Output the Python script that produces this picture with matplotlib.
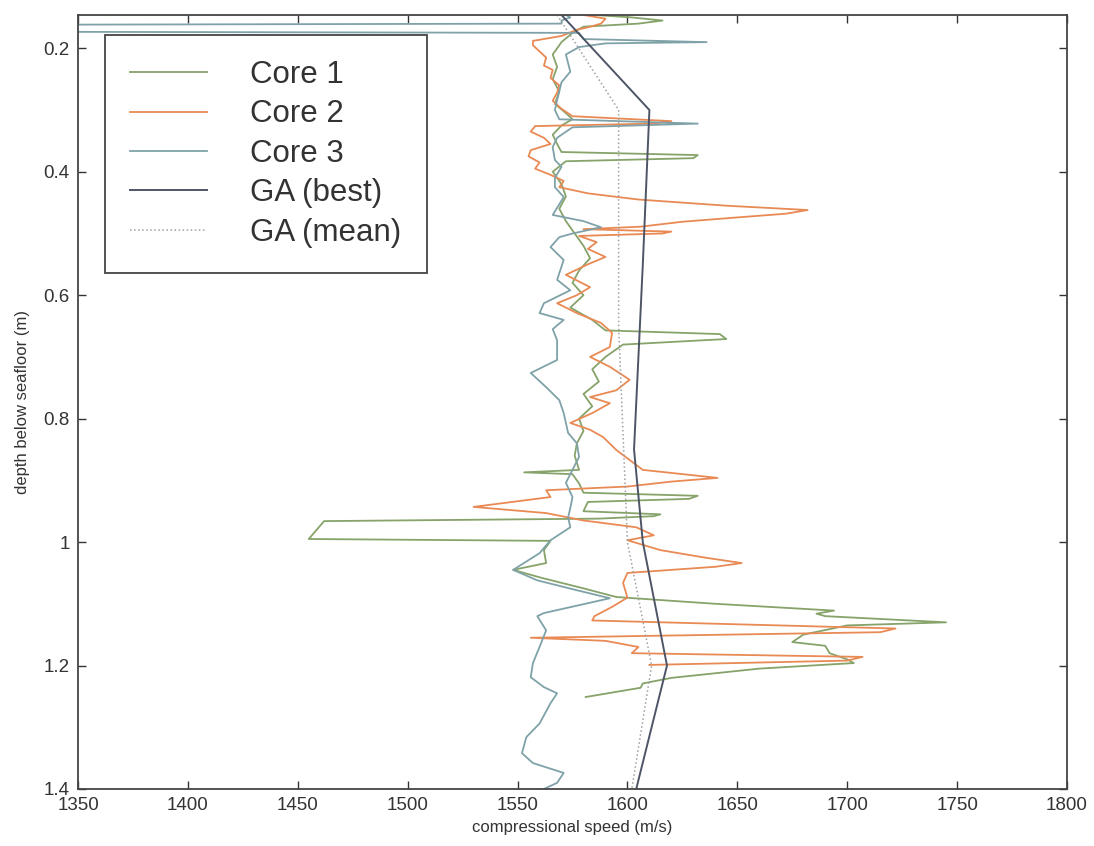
import numpy as np
import matplotlib.pyplot as plt
from matplotlib import font_manager

# font: Helvetica-like, narrow for the ticks if available
names = {f.name for f in font_manager.fontManager.ttflist}
narrow = 'Liberation Sans Narrow' if 'Liberation Sans Narrow' in names else 'Liberation Sans'
plt.rcParams['font.family'] = ['Liberation Sans', 'DejaVu Sans']

# Core 1 (depth m, speed m/s)
core1_depth = [0.146, 0.150, 0.155, 0.160, 0.165, 0.175, 0.19, 0.21, 0.23, 0.25, 0.27, 0.29,
               0.305, 0.315, 0.325, 0.34, 0.355, 0.368, 0.373, 0.378, 0.383, 0.40, 0.42, 0.44,
               0.46, 0.48, 0.50, 0.52, 0.54, 0.56, 0.58, 0.60, 0.62, 0.64, 0.657, 0.663, 0.671,
               0.680, 0.70, 0.72, 0.74, 0.76, 0.78, 0.80, 0.82, 0.84, 0.86, 0.883, 0.887, 0.890,
               0.905, 0.920, 0.925, 0.930, 0.935, 0.950, 0.955, 0.958, 0.962, 0.966, 0.995, 0.998,
               1.013, 1.034, 1.045, 1.058, 1.075, 1.089, 1.100, 1.111, 1.116, 1.120, 1.130, 1.135,
               1.150, 1.162, 1.168, 1.180, 1.190, 1.196, 1.205, 1.220, 1.229, 1.236, 1.251]
core1_speed = [1585, 1602, 1616, 1605, 1580, 1575, 1570, 1566, 1568, 1566, 1569, 1567,
               1572, 1575, 1570, 1566, 1568, 1570, 1632, 1630, 1572, 1566, 1570, 1572,
               1569, 1572, 1576, 1580, 1583, 1578, 1575, 1580, 1574, 1584, 1590, 1642, 1645,
               1598, 1590, 1584, 1587, 1580, 1584, 1578, 1580, 1577, 1576, 1578, 1553, 1575,
               1578, 1580, 1632, 1628, 1582, 1580, 1615, 1612, 1587, 1462, 1455, 1565,
               1562, 1563, 1548, 1561, 1580, 1595, 1640, 1694, 1686, 1690, 1745, 1700,
               1680, 1675, 1690, 1692, 1700, 1703, 1660, 1620, 1607, 1606, 1581]

# Core 2
core2_depth = [0.146, 0.152, 0.160, 0.166, 0.170, 0.180, 0.188, 0.195, 0.205, 0.215, 0.228,
               0.235, 0.248, 0.260, 0.272, 0.285, 0.298, 0.310, 0.318, 0.322, 0.326, 0.335,
               0.345, 0.355, 0.365, 0.375, 0.385, 0.395, 0.405, 0.415, 0.425, 0.435, 0.445,
               0.455, 0.462, 0.468, 0.474, 0.481, 0.489, 0.493, 0.497, 0.500, 0.504, 0.514,
               0.525, 0.538, 0.55, 0.567, 0.587, 0.60, 0.613, 0.629, 0.645, 0.661, 0.684,
               0.700, 0.716, 0.737, 0.754, 0.765, 0.775, 0.791, 0.807, 0.818, 0.830, 0.851,
               0.867, 0.883, 0.896, 0.902, 0.910, 0.916, 0.927, 0.943, 0.953, 0.965, 0.976,
               0.989, 0.997, 1.013, 1.025, 1.034, 1.040, 1.050, 1.066, 1.090, 1.105, 1.120,
               1.127, 1.140, 1.146, 1.155, 1.160, 1.170, 1.180, 1.186, 1.192, 1.199]
core2_speed = [1580, 1590, 1588, 1582, 1577, 1570, 1557, 1557, 1560, 1563, 1562,
               1566, 1565, 1569, 1568, 1566, 1570, 1575, 1620, 1612, 1558, 1556,
               1562, 1565, 1556, 1555, 1560, 1558, 1565, 1571, 1569, 1582, 1605,
               1645, 1682, 1672, 1650, 1625, 1606, 1580, 1620, 1616, 1578, 1586,
               1582, 1590, 1582, 1572, 1583, 1577, 1568, 1577, 1588, 1593, 1592,
               1583, 1592, 1601, 1595, 1583, 1592, 1584, 1574, 1583, 1589, 1595,
               1601, 1607, 1641, 1620, 1600, 1563, 1565, 1530, 1563, 1580, 1604,
               1612, 1600, 1615, 1635, 1652, 1640, 1600, 1598, 1600, 1593, 1585,
               1584, 1722, 1715, 1556, 1590, 1605, 1602, 1707, 1700, 1610]

# Core 3
core3_depth = [0.146, 0.150, 0.155, 0.160, 0.162, 0.173, 0.175, 0.185, 0.190, 0.192, 0.198,
               0.21, 0.238, 0.255, 0.284, 0.30, 0.315, 0.322, 0.328, 0.345, 0.36, 0.381,
               0.392, 0.41, 0.425, 0.441, 0.47, 0.48, 0.49, 0.50, 0.506, 0.522, 0.543, 0.575,
               0.592, 0.613, 0.629, 0.64, 0.655, 0.673, 0.689, 0.705, 0.726, 0.749, 0.77,
               0.791, 0.807, 0.823, 0.840, 0.862, 0.883, 0.904, 0.927, 0.945, 0.960, 0.976,
               0.997, 1.018, 1.045, 1.062, 1.078, 1.091, 1.115, 1.12, 1.143, 1.17, 1.196,
               1.219, 1.235, 1.245, 1.261, 1.294, 1.316, 1.342, 1.358, 1.374, 1.39, 1.40]
core3_speed = [1572, 1574, 1570, 1570, 1300, 1300, 1578, 1580, 1636, 1590, 1578,
               1572, 1574, 1570, 1568, 1567, 1569, 1632, 1575, 1568, 1566, 1567,
               1570, 1567, 1567, 1571, 1566, 1580, 1588, 1575, 1569, 1565, 1571, 1568,
               1574, 1562, 1560, 1571, 1566, 1568, 1568, 1568, 1556, 1563, 1569,
               1571, 1572, 1573, 1577, 1578, 1575, 1572, 1575, 1574, 1573, 1574,
               1565, 1560, 1548, 1559, 1577, 1592, 1562, 1559, 1563, 1560, 1557,
               1556, 1562, 1568, 1565, 1560, 1554, 1552, 1557, 1571, 1568, 1562]

# GA inversion results
ga_depth = [0.146, 0.30, 0.55, 0.85, 1.0, 1.2, 1.4]
ga_best = [1570, 1610, 1607, 1603, 1607, 1618, 1604]
ga_mean_depth = [0.146, 0.30, 0.65, 1.0, 1.2, 1.4]
ga_mean = [1568, 1596, 1596, 1600, 1611, 1602]

xticks = [1350, 1400, 1450, 1500, 1550, 1600, 1650, 1700, 1750, 1800]
yticks = [0.2, 0.4, 0.6, 0.8, 1.0, 1.2, 1.4]
ytick_labels = ['0.2', '0.4', '0.6', '0.8', '1', '1.2', '1.4']

fig = plt.figure(figsize=(10.94, 8.46), dpi=100)
ax = fig.add_axes([0.0713, 0.0674, 0.904, 0.9149])

ax.plot(core1_speed, core1_depth, color='#86a36a', lw=1.3, label='Core 1')
ax.plot(core2_speed, core2_depth, color='#e98a55', lw=1.3, label='Core 2')
ax.plot(core3_speed, core3_depth, color='#7fa2a8', lw=1.3, label='Core 3')
ax.plot(ga_best, ga_depth, color='#4d5566', lw=1.4, label='GA (best)')
ax.plot(ga_mean, ga_mean_depth, color='#a0a0a0', lw=1.1, ls=':', label='GA (mean)')

ax.set_xlim(1350, 1800)
ax.set_ylim(1.4, 0.146)
ax.set_xticks(xticks)
ax.set_yticks(yticks)
ax.set_yticklabels(ytick_labels)
ax.tick_params(direction='in', length=6, width=1, colors='#333333', labelsize=13.5,
               top=True, right=True, pad=6)
for lab in ax.get_xticklabels() + ax.get_yticklabels():
    lab.set_family([narrow, 'DejaVu Sans'])
for s in ax.spines.values():
    s.set_color('#444444')
    s.set_linewidth(1.3)

ax.set_xlabel('compressional speed (m/s)', fontsize=12, color='#333333', labelpad=4)
ax.set_ylabel('depth below seafloor (m)', fontsize=12, color='#333333', labelpad=10)

leg = ax.legend(loc='upper left', bbox_to_anchor=(0.0273, 0.974), borderaxespad=0,
                fontsize=22.5, handlelength=2.45, handletextpad=1.4, borderpad=0.8,
                labelspacing=0.3, fancybox=False, framealpha=1, edgecolor='#444444')
leg.get_frame().set_linewidth(1.3)
for t in leg.get_texts():
    t.set_color('#333333')

fig.savefig('out.png', dpi=100)
